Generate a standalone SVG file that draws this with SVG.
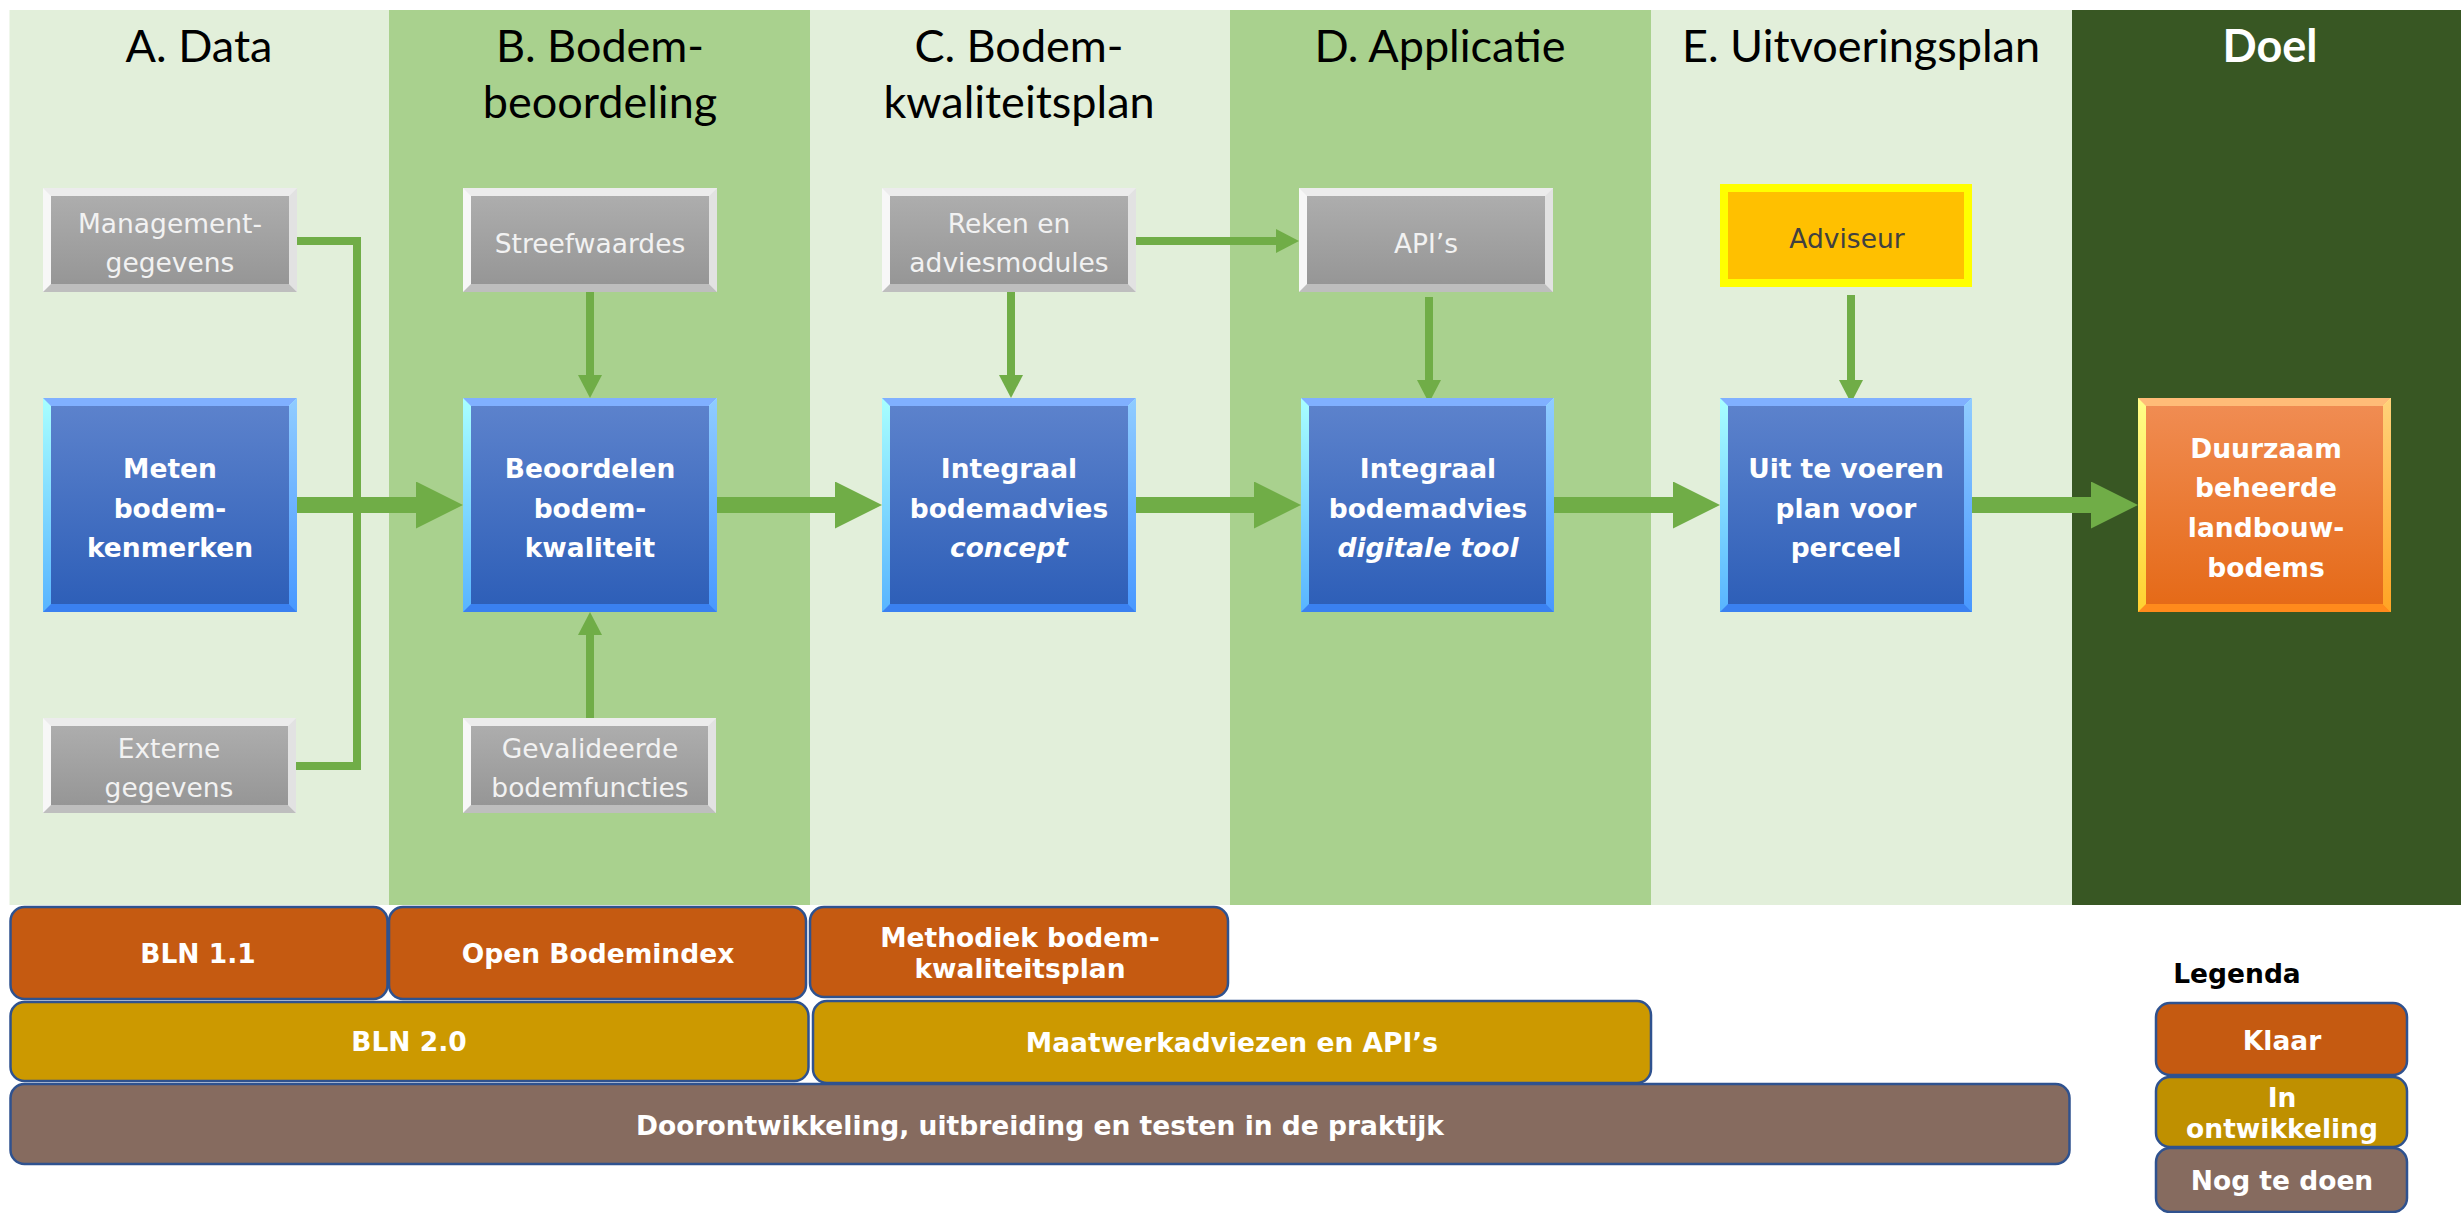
<svg xmlns="http://www.w3.org/2000/svg" width="2461" height="1213" viewBox="0 0 2461 1213">
<defs>
<linearGradient id="gFace" x1="0" y1="0" x2="0" y2="1"><stop offset="0" stop-color="#ADADAD"/><stop offset="1" stop-color="#969696"/></linearGradient>
<linearGradient id="bFace" x1="0" y1="0" x2="0" y2="1"><stop offset="0" stop-color="#5C82CC"/><stop offset="1" stop-color="#2E5FB8"/></linearGradient>
<linearGradient id="bLeft" x1="0" y1="0" x2="0" y2="1"><stop offset="0" stop-color="#A8FFFF"/><stop offset="1" stop-color="#58B4FF"/></linearGradient>
<linearGradient id="bRight" x1="0" y1="0" x2="0" y2="1"><stop offset="0" stop-color="#90CCFF"/><stop offset="1" stop-color="#4898FF"/></linearGradient>
<linearGradient id="oFace" x1="0" y1="0" x2="0" y2="1"><stop offset="0" stop-color="#F08C52"/><stop offset="1" stop-color="#E56A18"/></linearGradient>
<linearGradient id="oLeft" x1="0" y1="0" x2="0" y2="1"><stop offset="0" stop-color="#FFFF88"/><stop offset="1" stop-color="#FFD030"/></linearGradient>
<linearGradient id="oRight" x1="0" y1="0" x2="0" y2="1"><stop offset="0" stop-color="#FFD27A"/><stop offset="1" stop-color="#FFA424"/></linearGradient>
<marker id="thin" markerUnits="userSpaceOnUse" markerWidth="24" markerHeight="24" refX="0" refY="12" orient="auto"><path d="M0,0 L23,12 L0,24 z" fill="#70AD47"/></marker>
<marker id="thick" markerUnits="userSpaceOnUse" markerWidth="48" markerHeight="48" refX="0" refY="23.5" orient="auto"><path d="M0,0 L47,23.5 L0,47 z" fill="#70AD47"/></marker>
</defs>
<style>
.hdr{font-family:Lato,"Open Sans","Liberation Sans",sans-serif;font-size:45px;fill:#000;text-anchor:middle}
.gt{font-family:"DejaVu Sans",Verdana,sans-serif;font-size:26.5px;fill:#F2F2F2;text-anchor:middle}
.bt{font-family:"DejaVu Sans",Verdana,sans-serif;font-size:26.5px;font-weight:bold;fill:#FFFFFF;text-anchor:middle}
.bar{stroke:#2F528F;stroke-width:2.5}
.lt{font-family:"DejaVu Sans",Verdana,sans-serif;font-size:26.5px;font-weight:bold;fill:#FFFFFF;text-anchor:middle}
.gtop{fill:#ECECEC}.gleft{fill:#F7F7F7}.gright{fill:#E2E2E2}.gbot{fill:#BEBEBE}
.btop{fill:#80B0FF}.bbot{fill:#3A80F0}
.con{stroke:#70AD47;fill:none}
.c8{stroke-width:8}.c16{stroke-width:16}
</style>
<g id="columns">
<rect x="9.5" y="10" width="380" height="895" fill="#E2EFDA"/>
<rect x="389" y="10" width="421" height="895" fill="#A9D18E"/>
<rect x="810" y="10" width="420" height="895" fill="#E2EFDA"/>
<rect x="1230" y="10" width="421" height="895" fill="#A9D18E"/>
<rect x="1651" y="10" width="421" height="895" fill="#E2EFDA"/>
<rect x="2072" y="10" width="389" height="895" fill="#385723"/>
<text class="hdr" x="199" y="62">A. Data</text>
<text class="hdr" x="600" y="62">B. Bodem-</text>
<text class="hdr" x="600" y="118">beoordeling</text>
<text class="hdr" x="1019" y="62">C. Bodem-</text>
<text class="hdr" x="1019" y="118">kwaliteitsplan</text>
<text class="hdr" x="1440" y="62">D. Applicatie</text>
<text class="hdr" x="1861" y="62">E. Uitvoeringsplan</text>
<text class="hdr" x="2270" y="62" style="fill:#FFFFFF;font-weight:bold">Doel</text>
</g>
<g id="connectors">
<polyline class="con c8" points="297,241 357,241 357,766 295,766"/>
<line class="con c16" x1="297" y1="505" x2="416" y2="505" marker-end="url(#thick)"/>
<line class="con c8" x1="590" y1="292" x2="590" y2="375" marker-end="url(#thin)"/>
<line class="con c8" x1="590" y1="718" x2="590" y2="635" marker-end="url(#thin)"/>
<line class="con c16" x1="717" y1="505" x2="835" y2="505" marker-end="url(#thick)"/>
<line class="con c8" x1="1011" y1="292" x2="1011" y2="375" marker-end="url(#thin)"/>
<line class="con c8" x1="1136" y1="241" x2="1276" y2="241" marker-end="url(#thin)"/>
<line class="con c8" x1="1429" y1="297" x2="1429" y2="380" marker-end="url(#thin)"/>
<line class="con c16" x1="1136" y1="505" x2="1254" y2="505" marker-end="url(#thick)"/>
<line class="con c8" x1="1851" y1="295" x2="1851" y2="380" marker-end="url(#thin)"/>
<line class="con c16" x1="1554" y1="505" x2="1673" y2="505" marker-end="url(#thick)"/>
<line class="con c16" x1="1972" y1="505" x2="2091" y2="505" marker-end="url(#thick)"/>
</g>
<g id="management">
<rect class="gleft" x="43" y="188" width="254" height="104"/>
<polygon class="gtop" points="43,188 297,188 289,196 51,196"/>
<polygon class="gright" points="297,188 297,292 289,284 289,196"/>
<polygon class="gbot" points="43,292 297,292 289,284 51,284"/>
<rect x="51" y="196" width="238" height="88" fill="url(#gFace)"/>
<text class="gt" x="170" y="233">Management-</text>
<text class="gt" x="170" y="272">gegevens</text>
</g>
<g id="externe">
<rect class="gleft" x="43" y="718" width="253" height="95"/>
<polygon class="gtop" points="43,718 296,718 288,726 51,726"/>
<polygon class="gright" points="296,718 296,813 288,805 288,726"/>
<polygon class="gbot" points="43,813 296,813 288,805 51,805"/>
<rect x="51" y="726" width="237" height="79" fill="url(#gFace)"/>
<text class="gt" x="169" y="758">Externe</text>
<text class="gt" x="169" y="797">gegevens</text>
</g>
<g id="streefwaardes">
<rect class="gleft" x="463" y="188" width="254" height="104"/>
<polygon class="gtop" points="463,188 717,188 709,196 471,196"/>
<polygon class="gright" points="717,188 717,292 709,284 709,196"/>
<polygon class="gbot" points="463,292 717,292 709,284 471,284"/>
<rect x="471" y="196" width="238" height="88" fill="url(#gFace)"/>
<text class="gt" x="590" y="253">Streefwaardes</text>
</g>
<g id="gevalideerde">
<rect class="gleft" x="463" y="718" width="253" height="95"/>
<polygon class="gtop" points="463,718 716,718 708,726 471,726"/>
<polygon class="gright" points="716,718 716,813 708,805 708,726"/>
<polygon class="gbot" points="463,813 716,813 708,805 471,805"/>
<rect x="471" y="726" width="237" height="79" fill="url(#gFace)"/>
<text class="gt" x="590" y="758">Gevalideerde</text>
<text class="gt" x="590" y="797">bodemfuncties</text>
</g>
<g id="reken">
<rect class="gleft" x="882" y="188" width="254" height="104"/>
<polygon class="gtop" points="882,188 1136,188 1128,196 890,196"/>
<polygon class="gright" points="1136,188 1136,292 1128,284 1128,196"/>
<polygon class="gbot" points="882,292 1136,292 1128,284 890,284"/>
<rect x="890" y="196" width="238" height="88" fill="url(#gFace)"/>
<text class="gt" x="1009" y="233">Reken en</text>
<text class="gt" x="1009" y="272">adviesmodules</text>
</g>
<g id="apis">
<rect class="gleft" x="1299" y="188" width="254" height="104"/>
<polygon class="gtop" points="1299,188 1553,188 1545,196 1307,196"/>
<polygon class="gright" points="1553,188 1553,292 1545,284 1545,196"/>
<polygon class="gbot" points="1299,292 1553,292 1545,284 1307,284"/>
<rect x="1307" y="196" width="238" height="88" fill="url(#gFace)"/>
<text class="gt" x="1426" y="253">API’s</text>
</g>
<g id="adviseur">
<rect x="1720" y="184" width="252" height="103" fill="#FFFF00"/>
<rect x="1728" y="192" width="236" height="87" fill="#FFC000"/>
<text class="gt" x="1847" y="248" style="fill:#404040">Adviseur</text>
</g>
<g id="meten">
<rect x="43" y="398" width="254" height="214" fill="url(#bLeft)"/>
<polygon class="btop" points="43,398 297,398 289,406 51,406"/>
<polygon points="297,398 297,612 289,604 289,406" fill="url(#bRight)"/>
<polygon class="bbot" points="43,612 297,612 289,604 51,604"/>
<rect x="51" y="406" width="238" height="198" fill="url(#bFace)"/>
<text class="bt" x="170" y="478">Meten</text>
<text class="bt" x="170" y="518">bodem-</text>
<text class="bt" x="170" y="557">kenmerken</text>
</g>
<g id="beoordelen">
<rect x="463" y="398" width="254" height="214" fill="url(#bLeft)"/>
<polygon class="btop" points="463,398 717,398 709,406 471,406"/>
<polygon points="717,398 717,612 709,604 709,406" fill="url(#bRight)"/>
<polygon class="bbot" points="463,612 717,612 709,604 471,604"/>
<rect x="471" y="406" width="238" height="198" fill="url(#bFace)"/>
<text class="bt" x="590" y="478">Beoordelen</text>
<text class="bt" x="590" y="518">bodem-</text>
<text class="bt" x="590" y="557">kwaliteit</text>
</g>
<g id="concept">
<rect x="882" y="398" width="254" height="214" fill="url(#bLeft)"/>
<polygon class="btop" points="882,398 1136,398 1128,406 890,406"/>
<polygon points="1136,398 1136,612 1128,604 1128,406" fill="url(#bRight)"/>
<polygon class="bbot" points="882,612 1136,612 1128,604 890,604"/>
<rect x="890" y="406" width="238" height="198" fill="url(#bFace)"/>
<text class="bt" x="1009" y="478">Integraal</text>
<text class="bt" x="1009" y="518">bodemadvies</text>
<text class="bt" x="1009" y="557" font-style="italic">concept</text>
</g>
<g id="digitale">
<rect x="1301" y="398" width="253" height="214" fill="url(#bLeft)"/>
<polygon class="btop" points="1301,398 1554,398 1546,406 1309,406"/>
<polygon points="1554,398 1554,612 1546,604 1546,406" fill="url(#bRight)"/>
<polygon class="bbot" points="1301,612 1554,612 1546,604 1309,604"/>
<rect x="1309" y="406" width="237" height="198" fill="url(#bFace)"/>
<text class="bt" x="1428" y="478">Integraal</text>
<text class="bt" x="1428" y="518">bodemadvies</text>
<text class="bt" x="1428" y="557" font-style="italic">digitale tool</text>
</g>
<g id="uitvoeren">
<rect x="1720" y="398" width="252" height="214" fill="url(#bLeft)"/>
<polygon class="btop" points="1720,398 1972,398 1964,406 1728,406"/>
<polygon points="1972,398 1972,612 1964,604 1964,406" fill="url(#bRight)"/>
<polygon class="bbot" points="1720,612 1972,612 1964,604 1728,604"/>
<rect x="1728" y="406" width="236" height="198" fill="url(#bFace)"/>
<text class="bt" x="1846" y="478">Uit te voeren</text>
<text class="bt" x="1846" y="518">plan voor</text>
<text class="bt" x="1846" y="557">perceel</text>
</g>
<g id="duurzaam">
<rect x="2138" y="398" width="253" height="214" fill="url(#oLeft)"/>
<polygon points="2138,398 2391,398 2383,406 2146,406" fill="#FFBC78"/>
<polygon points="2391,398 2391,612 2383,604 2383,406" fill="url(#oRight)"/>
<polygon points="2138,612 2391,612 2383,604 2146,604" fill="#FF8A1C"/>
<rect x="2146" y="406" width="237" height="198" fill="url(#oFace)"/>
<text class="bt" x="2266" y="458">Duurzaam</text>
<text class="bt" x="2266" y="497">beheerde</text>
<text class="bt" x="2266" y="537">landbouw-</text>
<text class="bt" x="2266" y="577">bodems</text>
</g>
<g id="bln11">
<rect class="bar" x="10.5" y="907" width="377" height="92" rx="14" fill="#C55A11"/>
<text class="lt" x="198" y="963">BLN 1.1</text>
</g>
<g id="openbodemindex">
<rect class="bar" x="389" y="907" width="417" height="92" rx="14" fill="#C55A11"/>
<text class="lt" x="598" y="963">Open Bodemindex</text>
</g>
<g id="methodiek">
<rect class="bar" x="810" y="907" width="418" height="90" rx="14" fill="#C55A11"/>
<text class="lt" x="1020" y="947">Methodiek bodem-</text>
<text class="lt" x="1020" y="978">kwaliteitsplan</text>
</g>
<g id="bln20">
<rect class="bar" x="10.5" y="1002" width="798" height="79" rx="14" fill="#CC9900"/>
<text class="lt" x="409" y="1051">BLN 2.0</text>
</g>
<g id="maatwerk">
<rect class="bar" x="813" y="1001" width="838" height="82" rx="14" fill="#CC9900"/>
<text class="lt" x="1232" y="1052">Maatwerkadviezen en API’s</text>
</g>
<g id="doorontwikkeling">
<rect class="bar" x="10.5" y="1084" width="2059" height="80" rx="14" fill="#866B5F"/>
<text class="lt" x="1040" y="1135">Doorontwikkeling, uitbreiding en testen in de praktijk</text>
</g>
<g id="legenda">
<text class="lt" x="2237" y="983" style="fill:#000000;text-anchor:middle">Legenda</text>
<rect class="bar" x="2156" y="1003" width="251" height="72" rx="14" fill="#C55A11"/>
<text class="lt" x="2282" y="1050">Klaar</text>
<rect class="bar" x="2156" y="1077" width="251" height="70" rx="14" fill="#BF9000"/>
<text class="lt" x="2282" y="1107">In</text>
<text class="lt" x="2282" y="1138">ontwikkeling</text>
<rect class="bar" x="2156" y="1148" width="251" height="64" rx="14" fill="#866B5F"/>
<text class="lt" x="2282" y="1190">Nog te doen</text>
</g>
</svg>
